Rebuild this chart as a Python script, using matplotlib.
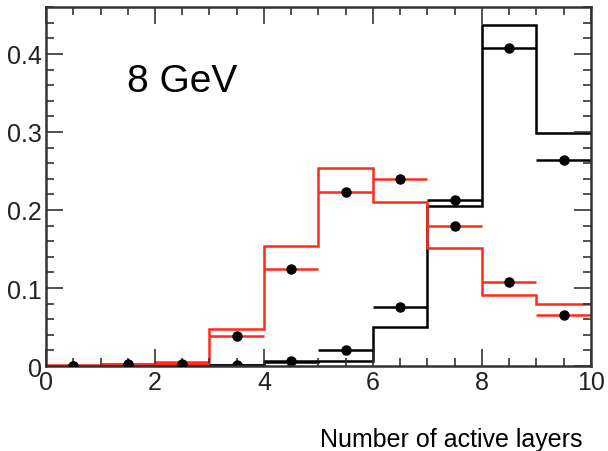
import numpy as np
import matplotlib
matplotlib.use('Agg')
import matplotlib.pyplot as plt
from matplotlib.ticker import MultipleLocator

plt.rcParams['font.family'] = ['Liberation Sans', 'DejaVu Sans']

# bin edges, number of active layers
edges = np.arange(0, 11)
centers = edges[:-1] + 0.5

# simulation histograms (fraction of events)
hist_black = [0.0005, 0.0005, 0.0008, 0.001, 0.005, 0.007, 0.050, 0.205, 0.437, 0.299]
hist_red = [0.001, 0.003, 0.005, 0.047, 0.154, 0.254, 0.210, 0.151, 0.091, 0.080]

# data points
data_black = [0.0, 0.0, 0.0, 0.001, 0.007, 0.021, 0.076, 0.213, 0.408, 0.264]
data_red = [0.0, 0.002, 0.003, 0.039, 0.124, 0.223, 0.240, 0.179, 0.108, 0.065]
err_red = [0.0, 0.0005, 0.0005, 0.002, 0.003, 0.004, 0.004, 0.004, 0.003, 0.002]
err_black = [0.0, 0.0, 0.0, 0.0005, 0.001, 0.002, 0.002, 0.003, 0.004, 0.003]

fig = plt.figure(figsize=(6.08, 4.52), dpi=100)
ax = fig.add_axes([0.0757, 0.188, 0.896, 0.794])

# histograms as steps
ax.stairs(hist_black, edges, color='black', linewidth=1.8, baseline=None)
ax.stairs(hist_red, edges, color='#ff2a1a', linewidth=1.8, baseline=None)

# data with bin-width horizontal bars
ax.errorbar(centers, data_black, xerr=0.5, yerr=err_black, fmt='o',
            color='black', ecolor='black', elinewidth=1.8, markersize=6.5,
            capsize=0)
ax.errorbar(centers, data_red, xerr=0.5, yerr=err_red, fmt='none',
            ecolor='#ff2a1a', elinewidth=1.8, capsize=0)
ax.plot(centers, data_red, 'o', color='black', markersize=6.5, zorder=5)

ax.set_xlim(0, 10)
ax.set_ylim(0, 0.46)

# ROOT-like ticks
ax.xaxis.set_major_locator(MultipleLocator(2))
ax.xaxis.set_minor_locator(MultipleLocator(0.5))
ax.yaxis.set_major_locator(MultipleLocator(0.1))
ax.yaxis.set_minor_locator(MultipleLocator(0.02))
ax.tick_params(which='both', direction='in', top=True, right=True,
               width=1.2, color='#333333')
ax.tick_params(which='major', length=12, labelsize=18, pad=3,
               labelcolor='#222222')
ax.tick_params(which='minor', length=6)
ax.set_xticks(range(0, 11, 2))
ax.set_xticklabels([str(v) for v in range(0, 11, 2)])
ax.set_yticks([0, 0.1, 0.2, 0.3, 0.4])
ax.set_yticklabels(['0', '0.1', '0.2', '0.3', '0.4'])
for s in ax.spines.values():
    s.set_linewidth(1.8)
    s.set_color('#333333')

ax.text(1.49, 0.353, '8 GeV', fontsize=28, color='black')

fig.text(0.958, 0.012, 'Number of active layers', fontsize=18,
         ha='right', va='baseline')

fig.savefig('out.png', dpi=100)
